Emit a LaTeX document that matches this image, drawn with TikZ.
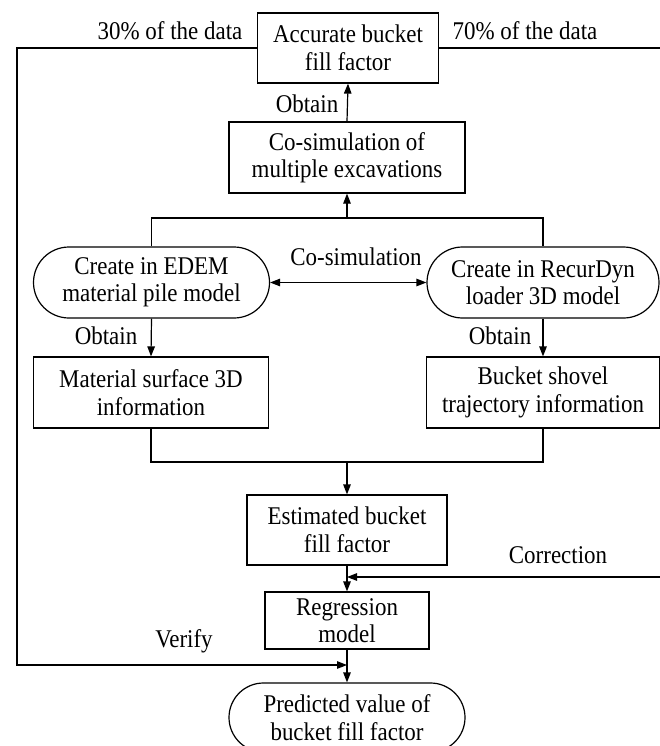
\documentclass[tikz,border=0pt]{standalone}
\usepackage{fontspec}
\setmainfont{Liberation Serif}[FakeStretch=0.9]
\usetikzlibrary{arrows.meta,shapes.misc}
\begin{document}
\begin{tikzpicture}[x=1pt,y=-1pt,
  every node/.style={font=\fontsize{25.5}{27.5}\selectfont},
  box/.style={draw,line width=1.2pt,rectangle,align=center,inner sep=0pt},
  pill/.style={draw,line width=1.2pt,rounded rectangle,align=center,inner sep=0pt},
  lbl/.style={inner sep=0pt},
  ln/.style={line width=1.2pt},
  arr/.style={line width=1.2pt,-{Triangle[length=10pt,width=7.5pt]}},
  darr/.style={line width=1.2pt,{Triangle[length=10pt,width=7.5pt]}-{Triangle[length=10pt,width=7.5pt]}}]
\useasboundingbox (0,0) rectangle (660,746);
% nodes
\node[box, minimum width=181pt, minimum height=70pt] (acc) at (348,48) {Accurate bucket\\fill factor};
\node[box, minimum width=236pt, minimum height=71pt] (cosim) at (347,157.5) {Co-simulation of\\multiple excavations};
\node[pill, minimum width=236pt, minimum height=71pt] (edem) at (151.5,282.5) {Create in EDEM\\material pile model};
\node[pill, minimum width=232pt, minimum height=71pt] (recur) at (543,282.5) {Create in RecurDyn\\loader 3D model};
\node[box, minimum width=235pt, minimum height=71pt] (mat) at (151,392.5) {Material surface 3D\\information};
\node[box, minimum width=233pt, minimum height=71pt] (buck) at (543,392.5) {Bucket shovel\\trajectory information};
\node[box, minimum width=200pt, minimum height=70pt] (est) at (347,530) {Estimated bucket\\fill factor};
\node[box, minimum width=164pt, minimum height=57pt] (reg) at (347,620.5) {Regression\\model};
\node[pill, minimum width=236pt, minimum height=69pt] (pred) at (347,717.5) {Predicted value of\\bucket fill factor};
% labels
\node[lbl] (l30) at (170,31) {30\% of the data};
\node[lbl] (l70) at (525,31) {70\% of the data};
\node[lbl] (lob1) at (307,104) {Obtain};
\node[lbl] (lcos) at (356,257) {Co-simulation};
\node[lbl] (lob2) at (106,336) {Obtain};
\node[lbl] (lob3) at (500,336) {Obtain};
\node[lbl] (lcor) at (558,555) {Correction};
\node[lbl] (lver) at (184,641) {Verify};
% coordinates
\coordinate (tl) at (17,48);
\coordinate (bl) at (17,665);
\coordinate (vj) at (347,665);
\coordinate (tr) at (662,48);
\coordinate (cr) at (662,577);
\coordinate (cj) at (347,577);
\coordinate (top) at (347,218);
\coordinate (mid) at (347,462);
% connectors
\draw[arr] (cosim.north) -- (acc.south);
\draw[ln] (edem.north) |- (top) -| (recur.north);
\draw[arr] (top) -- (cosim.south);
\draw[darr] (edem.east) -- (recur.west);
\draw[arr] (edem.south) -- (mat.north);
\draw[arr] (recur.south) -- (buck.north);
\draw[ln] (mat.south) |- (mid) -| (buck.south);
\draw[arr] (mid) -- (est.north);
\draw[arr] (est.south) -- (reg.north);
\draw[arr] (reg.south) -- (pred.north);
\draw[arr] (acc.west) -- (tl) -- (bl) -- (vj);
\draw[ln] (acc.east) -- (tr);
\draw[arr] (cr) -- (cj);
\end{tikzpicture}
\end{document}
